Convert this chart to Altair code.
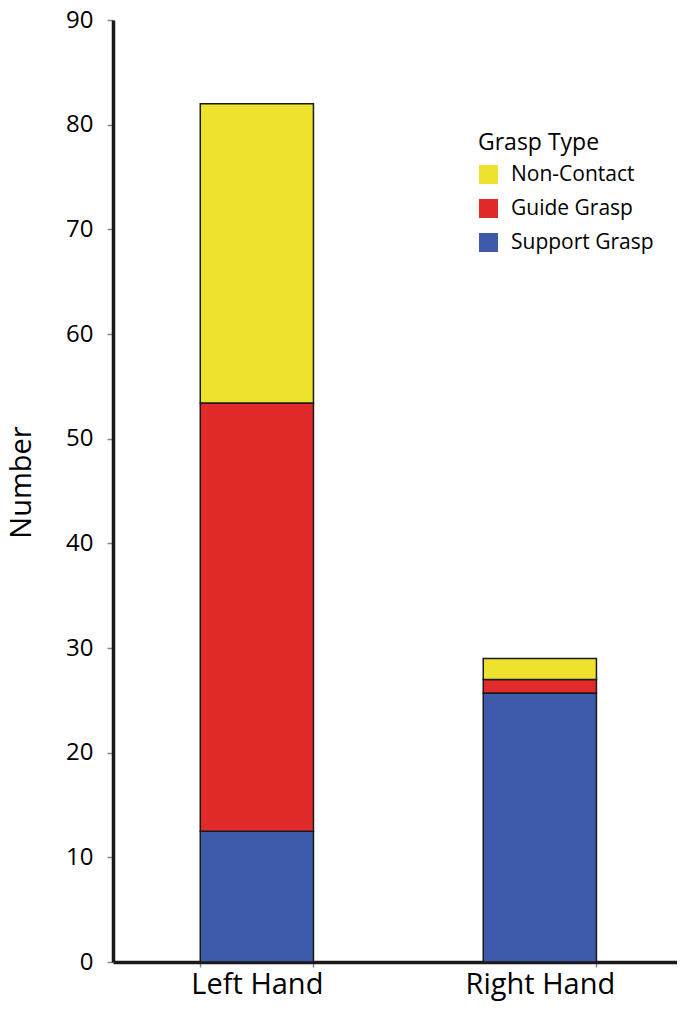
import altair as alt
import pandas as pd

hands = ["Left Hand", "Right Hand"]
types = ["Non-Contact", "Guide Grasp", "Support Grasp"]
colors = ["#EEE22E", "#E02B2A", "#3E5AAA"]
support = [12.5, 25.7]
guide = [40.9, 1.3]
noncontact = [28.6, 2.0]
y_ticks = [0, 10, 20, 30, 40, 50, 60, 70, 80, 90]

rows = []
for i, h in enumerate(hands):
    rows.append({"hand": h, "type": "Support Grasp", "value": support[i], "ord": 0})
    rows.append({"hand": h, "type": "Guide Grasp", "value": guide[i], "ord": 1})
    rows.append({"hand": h, "type": "Non-Contact", "value": noncontact[i], "ord": 2})
df = pd.DataFrame(rows)

FONT = "Open Sans"

chart = alt.Chart(df).mark_bar(stroke="#1a1a1a", strokeWidth=1.5).encode(
    x=alt.X("hand:N", sort=hands,
            scale=alt.Scale(paddingInner=0.6, paddingOuter=0.2965, align=0.52),
            axis=alt.Axis(title=None, labelAngle=0, tickBand="extent",
                          labelFont=FONT, labelFontSize=29, labelColor="black",
                          labelBaseline="alphabetic", labelPadding=26,
                          tickSize=5, tickWidth=1.5,
                          tickColor="#888888", domainColor="#1a1a1a",
                          domainWidth=3.5)),
    y=alt.Y("value:Q", stack="zero",
            scale=alt.Scale(domain=[0, 90], nice=False),
            axis=alt.Axis(title="Number", values=y_ticks, grid=False,
                          labelFont=FONT, labelFontSize=24, labelColor="black",
                          labelPadding=14, tickSize=6, tickWidth=1.5,
                          tickColor="#888888", domainColor="#1a1a1a",
                          domainWidth=3.5, titleFont=FONT, titleFontSize=29,
                          titleFontWeight="normal", titleColor="black",
                          titleX=-83, titleY=462, titleAngle=270,
                          titleAlign="center", titleBaseline="alphabetic")),
    color=alt.Color("type:N",
                    scale=alt.Scale(domain=types, range=colors),
                    legend=alt.Legend(title="Grasp Type", orient="none",
                                      legendX=365, legendY=112,
                                      titleFont=FONT, titleFontSize=23,
                                      titleFontWeight="normal", titleColor="black",
                                      titlePadding=9,
                                      labelFont=FONT, labelFontSize=21,
                                      labelColor="black", labelOffset=12,
                                      symbolType="square", symbolSize=361,
                                      symbolStrokeWidth=0, rowPadding=12)),
    order=alt.Order("ord:Q"),
).properties(
    width=564, height=942,
    autosize=alt.AutoSizeParams(type="none"),
    padding={"left": 105, "top": 12, "right": 0, "bottom": 40},
).configure_view(stroke=None)

chart.save("out.html", embed_options={"renderer": "svg", "actions": False})
